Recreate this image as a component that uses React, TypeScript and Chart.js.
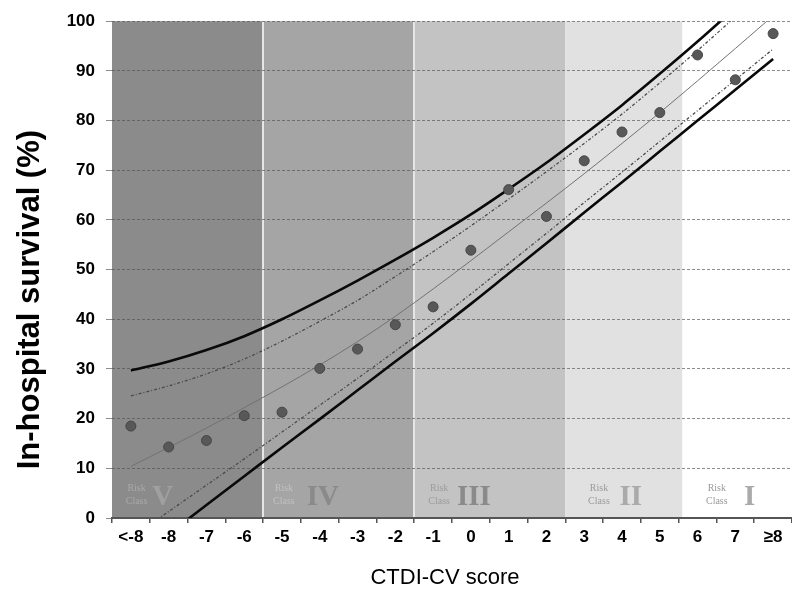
import React, { useEffect, useRef } from 'react';
import { Chart, registerables } from 'chart.js';

Chart.register(...registerables);

// ---- data ----
const categories = ['<-8', '-8', '-7', '-6', '-5', '-4', '-3', '-2', '-1', '0', '1', '2', '3', '4', '5', '6', '7', '≥8'];
const observedSurvival = [18.5, 14.3, 15.6, 20.6, 21.3, 30.1, 34.0, 38.9, 42.5, 53.9, 66.1, 60.7, 71.9, 77.7, 81.6, 93.2, 88.2, 97.5];
const fittedSurvival = [10.4, 14.2, 18.1, 22.2, 26.4, 30.8, 35.5, 40.6, 46.1, 51.8, 57.6, 63.4, 69.3, 75.4, 81.6, 88.0, 94.5, 101.1];
const outerUpper = [29.7, 31.5, 33.8, 36.6, 40.0, 43.8, 47.8, 52.0, 56.4, 61.1, 66.2, 71.5, 77.2, 83.1, 89.4, 95.9, 102.7, 109.7];
const innerUpper = [24.6, 26.6, 29.0, 32.0, 35.6, 39.6, 43.8, 48.6, 53.6, 58.8, 64.2, 69.7, 75.4, 81.3, 87.6, 94.1, 100.9, 107.9];
const innerLower = [-4.0, 1.3, 6.6, 11.9, 17.3, 22.7, 28.1, 33.6, 39.2, 45.1, 51.2, 57.3, 63.5, 69.6, 75.8, 82.0, 88.2, 94.4];
const outerLower = [-9.0, -3.2, 2.6, 8.4, 14.2, 19.9, 25.7, 31.5, 37.2, 43.1, 49.2, 55.3, 61.5, 67.6, 73.8, 80.0, 86.2, 92.4];
const yTickValues = [0, 10, 20, 30, 40, 50, 60, 70, 80, 90, 100];
const riskClassNames = ['V', 'IV', 'III', 'II', 'I'];
// band edges in category-index units
const riskClassEdges = [-0.5, 3.5, 7.5, 11.5, 14.6, 17.5];

const yTitle = 'In-hospital survival (%)';
const xTitle = 'CTDI-CV score';

// ---- styling / placement (not data) ----
const bandColors = ['#8b8b8b', '#a5a5a5', '#c3c3c3', '#e1e1e1', '#ffffff'];
const riskTextPos = [0.15, 4.05, 8.16, 12.39, 15.51];
const riskNumeralPos = [0.84, 5.08, 9.08, 13.23, 16.38];
const riskTextColors = ['#a9a9a9', '#c0c0c0', '#9c9c9c', '#9a9a9a', '#9a9a9a'];
const riskNumeralColors = ['#a0a0a0', '#8a8a8a', '#8a8a8a', '#aaaaaa', '#aaaaaa'];
const SANS = '"Liberation Sans", Arial, sans-serif';
const SERIF = '"Liberation Serif", "Times New Roman", serif';

const bandsPlugin = {
  id: 'riskBands',
  beforeDraw(chart: any) {
    const { ctx, chartArea, scales } = chart;
    const xs = scales.x;
    const ys = scales.y;
    const top = ys.getPixelForValue(100);
    const bottom = ys.getPixelForValue(0);
    ctx.save();
    for (let i = 0; i < bandColors.length; i++) {
      const x0 = xs.getPixelForValue(riskClassEdges[i]);
      const x1 = xs.getPixelForValue(riskClassEdges[i + 1]);
      ctx.fillStyle = bandColors[i];
      ctx.fillRect(x0, top, x1 - x0, bottom - top);
    }
    // light separators
    ctx.strokeStyle = '#e6e6e6';
    ctx.lineWidth = 2;
    for (const e of [riskClassEdges[1], riskClassEdges[2]]) {
      const x = Math.round(xs.getPixelForValue(e));
      ctx.beginPath();
      ctx.moveTo(x, top);
      ctx.lineTo(x, bottom);
      ctx.stroke();
    }
    // risk class labels
    for (let i = 0; i < riskClassNames.length; i++) {
      const tx = xs.getPixelForValue(riskTextPos[i]);
      ctx.fillStyle = riskTextColors[i];
      ctx.font = `10px ${SERIF}`;
      ctx.textAlign = 'center';
      ctx.textBaseline = 'middle';
      ctx.fillText('Risk', tx, ys.getPixelForValue(6.0));
      ctx.fillText('Class', tx, ys.getPixelForValue(3.3));
      const nx = xs.getPixelForValue(riskNumeralPos[i]);
      ctx.fillStyle = riskNumeralColors[i];
      ctx.font = `bold 29px ${SERIF}`;
      ctx.textBaseline = 'alphabetic';
      ctx.fillText(riskClassNames[i], nx, ys.getPixelForValue(2.6));
    }
    // axis titles
    ctx.fillStyle = '#000';
    ctx.font = `bold 31px ${SANS}`;
    ctx.textAlign = 'center';
    ctx.textBaseline = 'middle';
    ctx.save();
    ctx.translate(30, (chartArea.top + chartArea.bottom) / 2 + 30);
    ctx.rotate(-Math.PI / 2);
    ctx.fillText(yTitle, 0, 0);
    ctx.restore();
    ctx.font = `22px ${SANS}`;
    ctx.fillText(xTitle, 445, 578);
    ctx.restore();
  },
};

export default function App() {
  const ref = useRef<HTMLCanvasElement | null>(null);

  useEffect(() => {
    if (!ref.current) return;
    const lineBase = {
      pointRadius: 0,
      fill: false,
      cubicInterpolationMode: 'monotone' as const,
    };
    const chart = new Chart(ref.current, {
      type: 'line',
      data: {
        labels: categories,
        datasets: [
          {
            label: 'Observed',
            data: observedSurvival,
            showLine: false,
            pointRadius: 5,
            pointBackgroundColor: '#585858',
            pointBorderColor: '#474747',
            pointBorderWidth: 1,
            order: 0,
          },
          { ...lineBase, label: 'Fitted', data: fittedSurvival, borderColor: '#727272', borderWidth: 1, order: 1 },
          { ...lineBase, label: 'Upper inner', data: innerUpper, borderColor: '#4a4a4a', borderWidth: 1.3, borderDash: [3, 2, 1, 2], order: 2 },
          { ...lineBase, label: 'Lower inner', data: innerLower, borderColor: '#4a4a4a', borderWidth: 1.3, borderDash: [3, 2, 1, 2], order: 2 },
          { ...lineBase, label: 'Upper outer', data: outerUpper, borderColor: '#0a0a0a', borderWidth: 2.6, order: 3 },
          { ...lineBase, label: 'Lower outer', data: outerLower, borderColor: '#0a0a0a', borderWidth: 2.6, order: 3 },
        ],
      },
      options: {
        responsive: false,
        animation: false,
        layout: { padding: { top: 15, right: 0, bottom: 0, left: 0 } },
        plugins: { legend: { display: false }, tooltip: { enabled: false } },
        scales: {
          x: {
            type: 'category',
            offset: true,
            grid: {
              display: true,
              offset: true,
              drawOnChartArea: false,
              drawTicks: true,
              tickLength: 5,
              color: '#555',
              lineWidth: 1.5,
            },
            border: { display: true, color: '#555', width: 2 },
            ticks: {
              color: '#000',
              font: { family: SANS, size: 17, weight: 'bold' },
              padding: 4,
              maxRotation: 0,
              autoSkip: false,
            },
            afterFit: (s: any) => {
              s.height = 71;
            },
          },
          y: {
            min: 0,
            max: 100,
            afterBuildTicks: (s: any) => {
              s.ticks = yTickValues.map((v) => ({ value: v }));
            },
            grid: {
              color: 'rgba(80,80,80,0.65)',
              lineWidth: 1,
              drawTicks: true,
              tickLength: 6,
            },
            border: { display: false, dash: [3, 2] },
            ticks: {
              color: '#000',
              font: { family: SANS, size: 17, weight: 'bold' },
              padding: 11,
            },
            afterFit: (s: any) => {
              s.width = 112;
            },
          },
        },
      },
      plugins: [bandsPlugin],
    });
    return () => chart.destroy();
  }, []);

  return (
    <div style={{ position: 'absolute', left: 0, top: 0, width: 792, height: 589, overflow: 'hidden', background: '#fff' }}>
      <canvas ref={ref} width={798} height={589} style={{ display: 'block' }} />
    </div>
  );
}
